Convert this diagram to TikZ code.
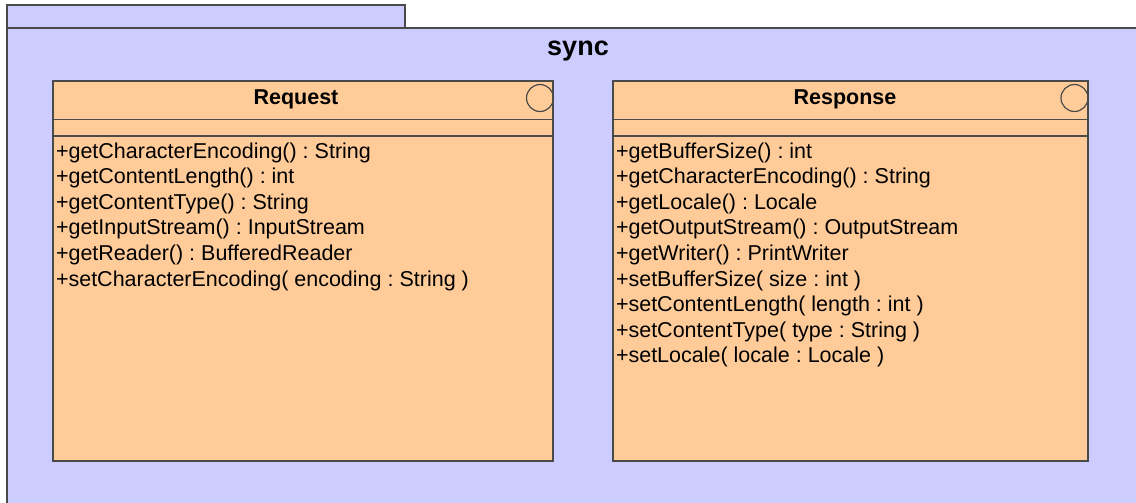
\documentclass[tikz,border=0pt]{standalone}
\usepackage{fontspec}
\setmainfont{Liberation Sans}
\frenchspacing
\definecolor{cccccff}{RGB}{204,204,255}
\definecolor{cffcc99}{RGB}{255,204,153}
\definecolor{c4a4a4a}{RGB}{74,74,74}
\tikzset{
  pkgpart/.style={fill=cccccff, draw=c4a4a4a, line width=1.6pt},
  classpart/.style={fill=cffcc99, draw=c4a4a4a, line width=1.6pt},
  sepline/.style={draw=c4a4a4a, line width=1.2pt},
  pkgname/.style={anchor=base, font=\bfseries\fontsize{27}{30}\selectfont},
  classname/.style={anchor=base, font=\bfseries\fontsize{21.5}{25.6}\selectfont},
  opline/.style={anchor=base west, font=\fontsize{21.5}{25.6}\selectfont},
}
\begin{document}
\begin{tikzpicture}[y=1pt, x=1pt, yscale=-1, inner sep=0pt, outer sep=0pt]
\useasboundingbox (0,0) rectangle (1136,503);
\begin{scope}% package sync
  % tab
  \path[pkgpart] (7,5) rectangle (405,28);
  % body
  \path[pkgpart] (7,28) rectangle (1160,530);
  \node[pkgname] (sync) at (578,56) {sync};
\end{scope}
\begin{scope}% class Request
  \path[classpart] (53,81) rectangle (553,461);
  \path[sepline] (53,119.5) -- (553,119.5);
  \path[sepline] (53,136) -- (553,136);
  \path[sepline] (540,98) circle (13.5);
  \node[classname] (request) at (296,104) {Request};
  \foreach \op [count=\i] in {+getCharacterEncoding() : String,
      +getContentLength() : int, +getContentType() : String,
      +getInputStream() : InputStream, +getReader() : BufferedReader,
      +setCharacterEncoding( encoding : String )}
    \node[opline] (request-op\i) at (56,{158+25.6*(\i-1)}) {\op};
\end{scope}
\begin{scope}% class Response
  \path[classpart] (613,81) rectangle (1088,461);
  \path[sepline] (613,119.5) -- (1088,119.5);
  \path[sepline] (613,136) -- (1088,136);
  \path[sepline] (1074.5,98) circle (13.5);
  \node[classname] (response) at (845,104) {Response};
  \foreach \op [count=\i] in {+getBufferSize() : int,
      +getCharacterEncoding() : String, +getLocale() : Locale,
      +getOutputStream() : OutputStream, +getWriter() : PrintWriter,
      +setBufferSize( size : int ), +setContentLength( length : int ),
      +setContentType( type : String ), +setLocale( locale : Locale )}
    \node[opline] (response-op\i) at (616,{158+25.6*(\i-1)}) {\op};
\end{scope}
\end{tikzpicture}
\end{document}
